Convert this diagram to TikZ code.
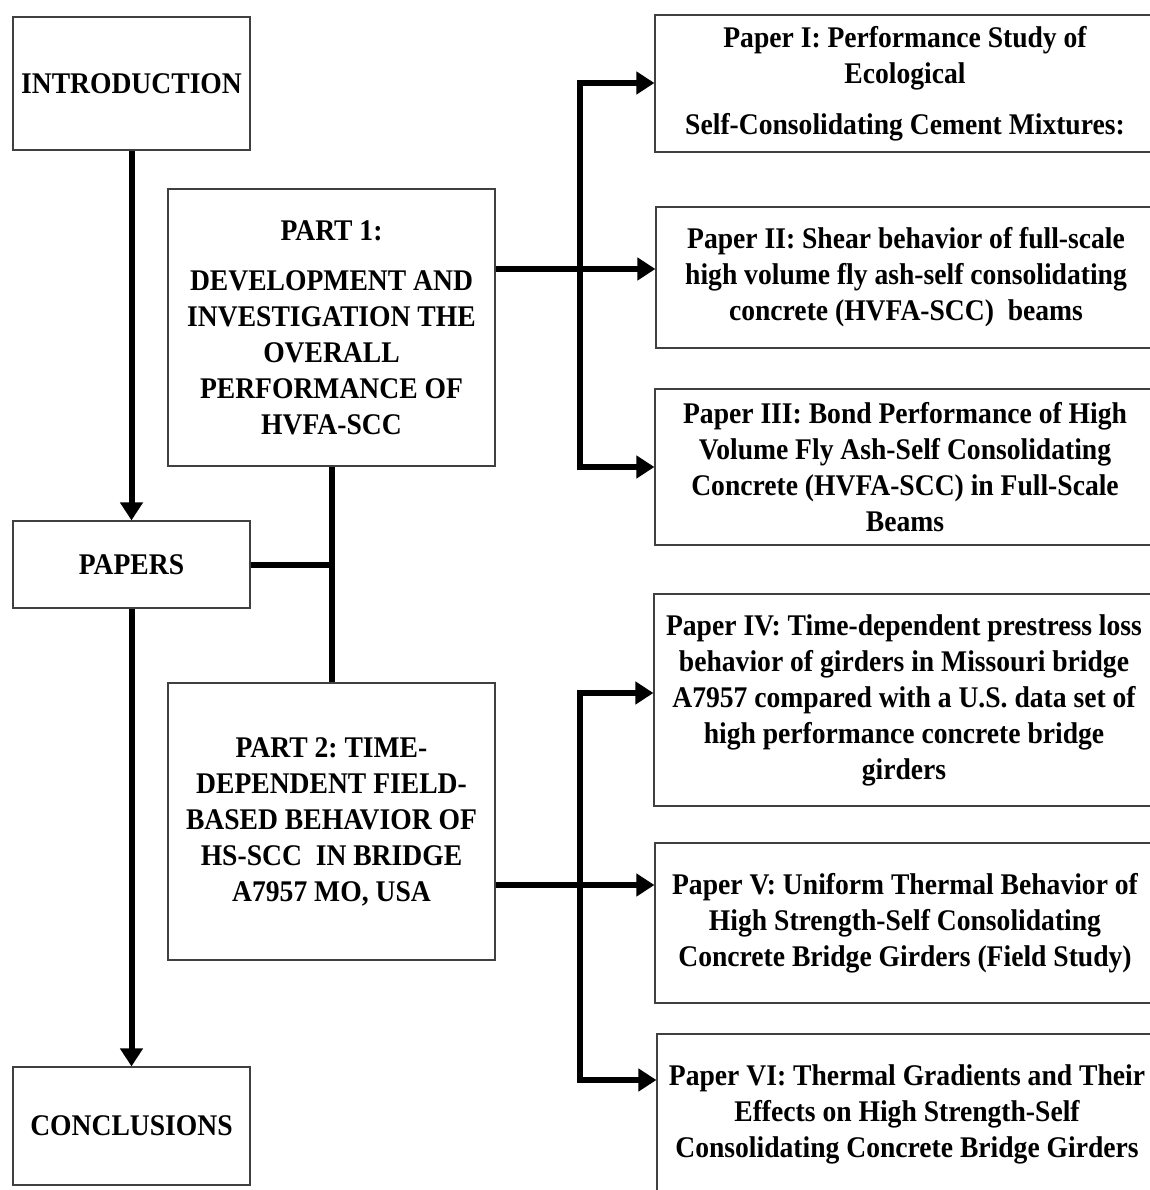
\documentclass[tikz,border=0pt]{standalone}
\usepackage{fontspec}
\setmainfont{Liberation Serif}[FakeStretch=0.92]
\usetikzlibrary{arrows.meta}
\definecolor{boxgray}{HTML}{404040}
\frenchspacing
\begin{document}
\begin{tikzpicture}[x=1pt,y=-1pt,
  box/.style={draw=boxgray, line width=1.2pt, fill=white, align=center, inner sep=0pt,
    font=\bfseries\fontsize{30}{36}\selectfont},
  conn/.style={line width=6pt},
  arr/.style={conn, -{Triangle[length=18pt,width=22pt]}}]
\useasboundingbox (0,0) rectangle (1149,1190);
% left column
\node[box, minimum width=237pt, minimum height=133pt] (intro) at (131.5,83.5) {INTRODUCTION};
\node[box, minimum width=237pt, minimum height=87pt] (papers) at (131.5,564.5) {PAPERS};
\node[box, minimum width=237pt, minimum height=118pt] (concl) at (131.5,1126) {CONCLUSIONS};
% parts
\node[box, minimum width=327pt, minimum height=277pt] (part1) at (331.5,327.5)
  {PART 1:\\[14pt] DEVELOPMENT AND\\ INVESTIGATION THE\\ OVERALL\\ PERFORMANCE OF\\ HVFA-SCC};
\node[box, minimum width=327pt, minimum height=277pt] (part2) at (331.5,821.5)
  {PART 2: TIME-\\ DEPENDENT FIELD-\\ BASED BEHAVIOR OF\\ HS-SCC\ \ IN BRIDGE\\ A7957 MO, USA};
% papers
\node[box, minimum width=500pt, minimum height=137pt] (p1) at (905,83.5)
  {Paper I: Performance Study of\\ Ecological\\[15pt] Self-Consolidating Cement Mixtures:};
\node[box, minimum width=500pt, minimum height=141pt] (p2) at (906,277.5)
  {Paper II: Shear behavior of full-scale\\ high volume fly ash-self consolidating\\ concrete (HVFA-SCC)\ \ beams};
\node[box, minimum width=500pt, minimum height=156pt] (p3) at (905,467)
  {Paper III: Bond Performance of High\\ Volume Fly Ash-Self Consolidating\\ Concrete (HVFA-SCC)\ in Full-Scale\\ Beams};
\node[box, minimum width=500pt, minimum height=212pt] (p4) at (904,700)
  {Paper IV: Time-dependent prestress loss\\ behavior of girders in Missouri bridge\\ A7957 compared with a U.S. data set of\\ high performance concrete bridge\\ girders};
\node[box, minimum width=500pt, minimum height=160pt] (p5) at (905,923)
  {Paper V: Uniform Thermal Behavior of\\ High Strength-Self Consolidating\\ Concrete Bridge Girders (Field Study)};
\node[box, minimum width=500pt, minimum height=160pt] (p6) at (907,1114)
  {Paper VI: Thermal Gradients and Their\\ Effects on High Strength-Self\\ Consolidating Concrete Bridge Girders};
% left connectors
\draw[arr] (intro) -- (papers);
\draw[arr] (papers) -- (concl);
\draw[conn] (papers.east) -- (papers.east -| part1.south);
\draw[conn] (part1.south) -- (part2.north);
% part 1 branch
\coordinate (j1) at (580,269);
\coordinate (t1) at (580,83);
\coordinate (b1) at (580,467);
\draw[conn] (part1.east |- j1) -- (j1);
\draw[arr] (j1) -- (p2.west |- j1);
\draw[arr] (b1) -- (t1) -- (p1.west |- t1);
\draw[arr] (t1) -- (b1) -- (p3.west |- b1);
% part 2 branch
\coordinate (j2) at (580,885);
\coordinate (t2) at (580,693);
\coordinate (b2) at (580,1080);
\draw[conn] (part2.east |- j2) -- (j2);
\draw[arr] (j2) -- (p5.west |- j2);
\draw[arr] (b2) -- (t2) -- (p4.west |- t2);
\draw[arr] (t2) -- (b2) -- (p6.west |- b2);
\end{tikzpicture}
\end{document}
